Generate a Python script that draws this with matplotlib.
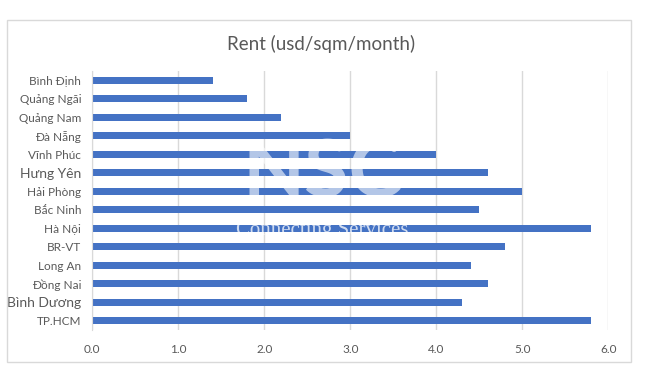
import matplotlib.pyplot as plt
from matplotlib.patches import Rectangle

# Data (top to bottom as shown)
provinces = ["Bình Định", "Quảng Ngãi", "Quảng Nam", "Đà Nẵng", "Vĩnh Phúc",
             "Hưng Yên", "Hải Phòng", "Bắc Ninh", "Hà Nội", "BR-VT",
             "Long An", "Đồng Nai", "Bình Dương", "TP.HCM"]
rent = [1.4, 1.8, 2.2, 3.0, 4.0, 4.6, 5.0, 4.5, 5.8, 4.8, 4.4, 4.6, 4.3, 5.8]
x_ticks = [0.0, 1.0, 2.0, 3.0, 4.0, 5.0, 6.0]

plt.rcParams['font.family'] = ['Lato', 'DejaVu Sans']
grey = "#595959"

fig = plt.figure(figsize=(6.66, 3.84), dpi=100)
ax = fig.add_axes([0.1385, 0.1406, 0.7749, 0.6745])

pos = list(range(len(provinces)))[::-1]
ax.barh(pos, rent, height=0.38, color="#4472c4", zorder=2)

ax.set_xlim(0, 6)
ax.set_ylim(-0.5, len(provinces) - 0.5)
ax.set_xticks(x_ticks)
ax.set_xticklabels([f"{v:.1f}" for v in x_ticks], fontsize=8.5, color=grey)
ax.set_yticks(pos)
ax.set_yticklabels(provinces, fontsize=8.5, color=grey)
for lbl in ax.get_yticklabels():
    if lbl.get_text() in ("Hưng Yên", "Bình Dương"):
        lbl.set_fontsize(10)

ax.grid(axis="x", color="#d9d9d9", linewidth=1, zorder=0)
for s in ["top", "right", "bottom"]:
    ax.spines[s].set_visible(False)
ax.spines["left"].set_color("#d9d9d9")
ax.tick_params(axis="both", length=0, pad=8)
ax.tick_params(axis="x", pad=10)

# Faint watermark
ax.text(0.445, 0.6, "NSC", transform=ax.transAxes, fontsize=58, fontweight="bold",
        color="white", alpha=0.6, ha="center", va="center", zorder=3)
ax.text(0.445, 0.385, "Connecting Services", transform=ax.transAxes, fontsize=15,
        family="Liberation Serif", color="white", alpha=0.75, ha="center",
        va="center", zorder=3)

fig.text(0.482, 0.885, "Rent (usd/sqm/month)", ha="center", va="center",
         fontsize=13.5, color=grey)

# Chart border
fig.patches.append(Rectangle((7 / 666, 1 - 362 / 384), 624 / 666, 342 / 384,
                             transform=fig.transFigure, fill=False,
                             edgecolor="#d9d9d9", linewidth=1))

fig.savefig("out.png", dpi=100)
